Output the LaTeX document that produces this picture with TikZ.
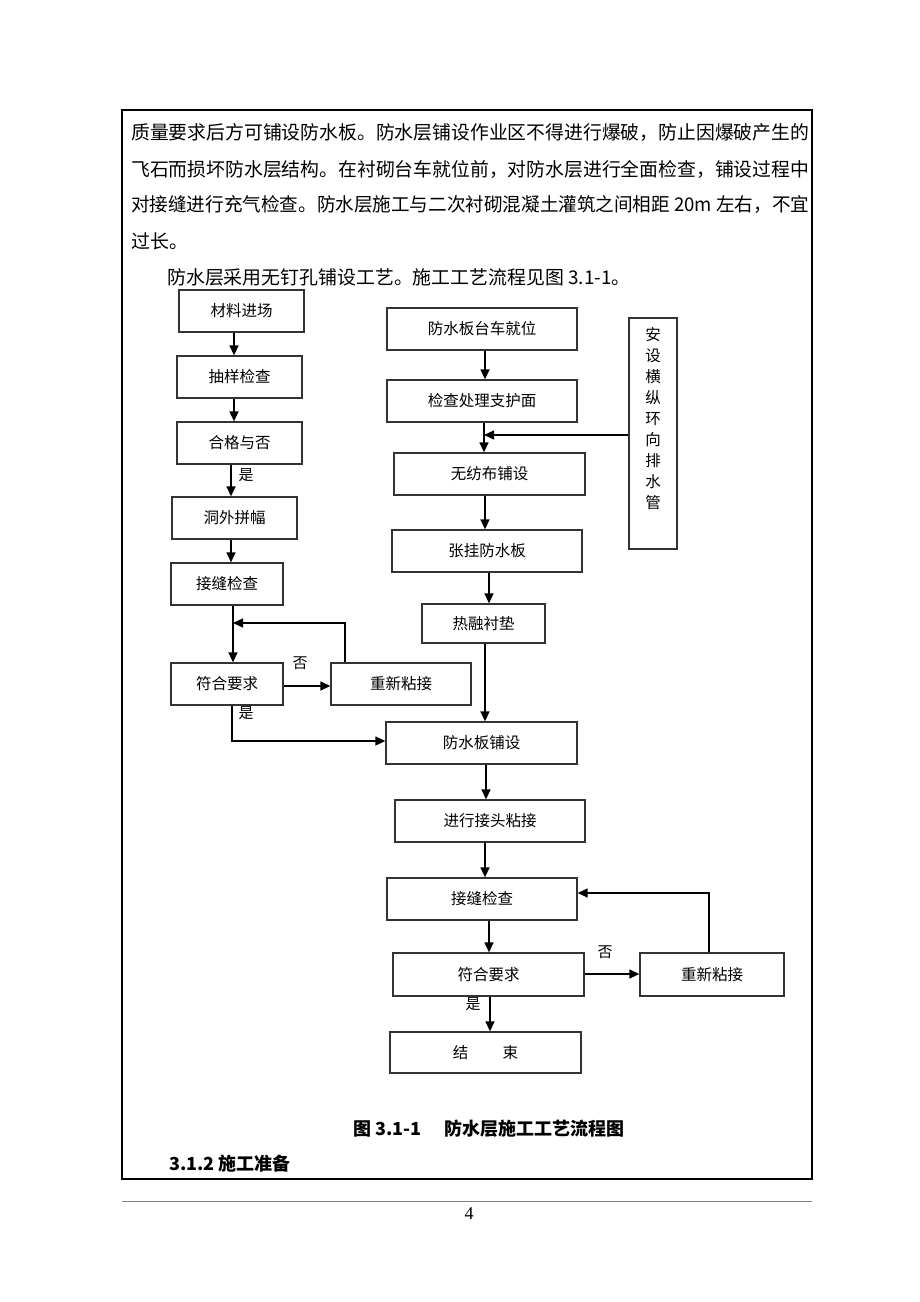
\documentclass[tikz,border=0pt]{standalone}
\usepackage{fontspec}
\usepackage{graphicx}
\setmainfont{Noto Sans CJK SC}
\newfontfamily\pagefont{Liberation Serif}
\usetikzlibrary{arrows.meta}

\begin{document}
\begin{tikzpicture}[x=1pt, y=-1pt,
    box/.style={draw=black!80, line width=1.3pt, inner sep=0pt, minimum height=42pt, font=\fontsize{15.5}{15.5}\selectfont},
    flow/.style={-{Triangle[width=9pt,length=10pt]}, line width=1.4pt},
    lbl/.style={inner sep=0pt, font=\fontsize{15}{15}\selectfont},
    body/.style={anchor=west, inner sep=0pt, font=\fontsize{18.9}{18.9}\selectfont},
    head/.style={inner sep=0pt, font=\bfseries\fontsize{18}{18}\selectfont}]
    \useasboundingbox[fill=white] (0,0) rectangle (920,1302);
    \draw[line width=2pt] (122,110) rectangle (812,1179);
    \draw[line width=1pt, color=gray] (122,1201) -- (812,1201);
    \node[inner sep=0pt, font=\pagefont\fontsize{18}{18}\selectfont] (page) at (469,1214) {4};

    \node[body] (p1) at (131,133) {\resizebox{678pt}{\height}{质量要求后方可铺设防水板。防水层铺设作业区不得进行爆破，防止因爆破产生的}};
    \node[body] (p2) at (131,169) {\resizebox{678pt}{\height}{飞石而损坏防水层结构。在衬砌台车就位前，对防水层进行全面检查，铺设过程中}};
    \node[body] (p3) at (131,205) {\resizebox{678pt}{\height}{对接缝进行充气检查。防水层施工与二次衬砌混凝土灌筑之间相距 20m 左右，不宜}};
    \node[body] (p4) at (131,241) {过长。};
    \node[body] (p5) at (167,277) {防水层采用无钉孔铺设工艺。施工工艺流程见图 3.1-1。};

    \node[box, minimum width=125pt] (L1) at (241.5,311) {材料进场};
    \node[box, minimum width=125pt] (L2) at (239.5,377) {抽样检查};
    \node[box, minimum width=125pt] (L3) at (239.5,443) {合格与否};
    \node[box, minimum width=125pt] (L4) at (234.5,518) {洞外拼幅};
    \node[box, minimum width=112pt] (L5) at (227,584) {接缝检查};
    \node[box, minimum width=112pt] (L6) at (227,684) {符合要求};
    \node[box, minimum width=140pt] (L7) at (401,684) {重新粘接};

    \node[box, minimum width=190pt] (M1) at (482,329) {防水板台车就位};
    \node[box, minimum width=190pt] (M2) at (482,401) {检查处理支护面};
    \node[box, minimum width=191pt] (M3) at (489.5,474) {无纺布铺设};
    \node[box, minimum width=190pt] (M4) at (487,551) {张挂防水板};
    \node[box, minimum width=123pt, minimum height=39pt] (M5) at (483.5,623.5) {热融衬垫};
    \node[box, minimum width=191pt] (M6) at (481.5,743) {防水板铺设};
    \node[box, minimum width=190pt] (M7) at (490,821) {进行接头粘接};
    \node[box, minimum width=190pt] (M8) at (482,899) {接缝检查};
    \node[box, minimum width=191pt, minimum height=43pt] (M9) at (488.5,974.5) {符合要求};
    \node[box, minimum width=144pt, minimum height=43pt] (M10) at (712,974.5) {重新粘接};
    \node[box, minimum width=191pt, minimum height=41pt] (M11) at (485.5,1052.5) {结\hspace{2.2em}束};

    \node[box, minimum width=48pt, minimum height=231pt] (drain) at (653,433.5) {};
    \node[inner sep=0pt, align=center, font=\fontsize{15.5}{21}\selectfont] (draintext) at (653,419) {安\\设\\横\\纵\\环\\向\\排\\水\\管};

    \coordinate (j1) at (233,623);
    \coordinate (j2) at (484,435);

    \draw[flow] (L1.south -| 234,0) -- (L2.north -| 234,0);
    \draw[flow] (L2.south -| 234,0) -- (L3.north -| 234,0);
    \draw[flow] (L3.south -| 231,0) -- (L4.north -| 231,0);
    \draw[flow] (L4.south -| 231,0) -- (L5.north -| 231,0);
    \draw[flow] (L5.south -| 233,0) -- (L6.north -| 233,0);
    \draw[flow] (L7.north -| 345,0) |- (j1);
    \draw[flow] (L6.east |- 0,686) -- (L7.west |- 0,686);
    \draw[flow] (L6.south -| 232,0) |- (M6.west |- 0,741);

    \draw[flow] (M1.south -| 485,0) -- (M2.north -| 485,0);
    \draw[flow] (M2.south -| 484,0) -- (M3.north -| 484,0);
    \draw[flow] (drain.west |- j2) -- (j2);
    \draw[flow] (M3.south -| 485,0) -- (M4.north -| 485,0);
    \draw[flow] (M4.south -| 489,0) -- (M5.north -| 489,0);
    \draw[flow] (M5.south -| 485,0) -- (M6.north -| 485,0);
    \draw[flow] (M6.south -| 486,0) -- (M7.north -| 486,0);
    \draw[flow] (M7.south -| 485,0) -- (M8.north -| 485,0);
    \draw[flow] (M8.south -| 489,0) -- (M9.north -| 489,0);
    \draw[flow] (M9.east |- 0,974) -- (M10.west |- 0,974);
    \draw[flow] (M10.north -| 709,0) |- (M8.east |- 0,893);
    \draw[flow] (M9.south -| 490,0) -- (M11.north -| 490,0);

    \node[lbl] (yes1) at (246,475) {是};
    \node[lbl] (no1) at (300,663) {否};
    \node[lbl] (yes2) at (246,713) {是};
    \node[lbl] (no2) at (605,952) {否};
    \node[lbl] (yes3) at (473,1004) {是};

    \node[head] (caption) at (489,1129) {图 3.1-1\hspace{1.3em}防水层施工工艺流程图};
    \node[head, anchor=west] (section) at (169,1164) {3.1.2 施工准备};
\end{tikzpicture}
\end{document}
